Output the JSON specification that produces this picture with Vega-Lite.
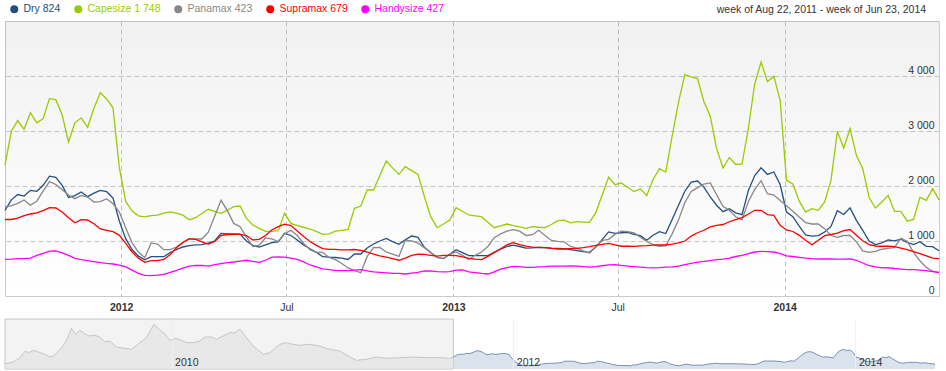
{
  "$schema": "https://vega.github.io/schema/vega-lite/v6.json",
  "padding": {"left": 1, "top": 0, "right": 0, "bottom": 0},
  "background": "#ffffff",
  "spacing": 5,
  "title": {"text": "week of Aug 22, 2011 - week of Jun 23, 2014", "anchor": "end", "orient": "top", "fontSize": 10.5, "fontWeight": "normal", "font": "Liberation Sans", "color": "#333333", "offset": -15.5, "dx": -16},
  "config": {
    "font": "Liberation Sans",
    "view": {"stroke": "#cccccc"},
    "axis": {"labelFont": "Liberation Sans", "labelFontSize": 10.5, "labelColor": "#333333", "gridColor": "#c8c8c8", "gridDash": [5, 3], "domain": false, "ticks": false}
  },
  "datasets": {
    "weekly": [
      {"d":"2011-08-26","Dry":1558,"Capesize":2380,"Panamax":1618,"Supramax":1391,"Handysize":667},
      {"d":"2011-09-02","Dry":1748,"Capesize":2995,"Panamax":1642,"Supramax":1391,"Handysize":670},
      {"d":"2011-09-09","Dry":1845,"Capesize":3190,"Panamax":1685,"Supramax":1418,"Handysize":679},
      {"d":"2011-09-16","Dry":1818,"Capesize":3030,"Panamax":1745,"Supramax":1460,"Handysize":679},
      {"d":"2011-09-23","Dry":1921,"Capesize":3333,"Panamax":1650,"Supramax":1491,"Handysize":688},
      {"d":"2011-09-30","Dry":1903,"Capesize":3148,"Panamax":1724,"Supramax":1512,"Handysize":740},
      {"d":"2011-10-07","Dry":2012,"Capesize":3224,"Panamax":1906,"Supramax":1552,"Handysize":775},
      {"d":"2011-10-14","Dry":2179,"Capesize":3588,"Panamax":2079,"Supramax":1606,"Handysize":815},
      {"d":"2011-10-21","Dry":2158,"Capesize":3570,"Panamax":2027,"Supramax":1600,"Handysize":820},
      {"d":"2011-10-28","Dry":2012,"Capesize":3291,"Panamax":1933,"Supramax":1527,"Handysize":785},
      {"d":"2011-11-04","Dry":1791,"Capesize":2800,"Panamax":1836,"Supramax":1421,"Handysize":738},
      {"d":"2011-11-11","Dry":1824,"Capesize":3148,"Panamax":1770,"Supramax":1330,"Handysize":685},
      {"d":"2011-11-18","Dry":1891,"Capesize":3239,"Panamax":1830,"Supramax":1388,"Handysize":660},
      {"d":"2011-11-25","Dry":1806,"Capesize":3067,"Panamax":1800,"Supramax":1382,"Handysize":642},
      {"d":"2011-12-02","Dry":1870,"Capesize":3415,"Panamax":1709,"Supramax":1315,"Handysize":625},
      {"d":"2011-12-09","Dry":1921,"Capesize":3697,"Panamax":1715,"Supramax":1218,"Handysize":606},
      {"d":"2011-12-16","Dry":1897,"Capesize":3582,"Panamax":1770,"Supramax":1194,"Handysize":592},
      {"d":"2011-12-23","Dry":1782,"Capesize":3421,"Panamax":1679,"Supramax":1170,"Handysize":582},
      {"d":"2011-12-30","Dry":1360,"Capesize":2330,"Panamax":1527,"Supramax":1103,"Handysize":560},
      {"d":"2012-01-06","Dry":1042,"Capesize":1720,"Panamax":1240,"Supramax":958,"Handysize":530},
      {"d":"2012-01-13","Dry":845,"Capesize":1545,"Panamax":966,"Supramax":800,"Handysize":470},
      {"d":"2012-01-20","Dry":724,"Capesize":1458,"Panamax":800,"Supramax":688,"Handysize":410},
      {"d":"2012-01-27","Dry":658,"Capesize":1440,"Panamax":697,"Supramax":612,"Handysize":375},
      {"d":"2012-02-03","Dry":715,"Capesize":1460,"Panamax":964,"Supramax":642,"Handysize":370},
      {"d":"2012-02-10","Dry":715,"Capesize":1470,"Panamax":945,"Supramax":642,"Handysize":380},
      {"d":"2012-02-17","Dry":715,"Capesize":1505,"Panamax":842,"Supramax":664,"Handysize":395},
      {"d":"2012-02-24","Dry":791,"Capesize":1530,"Panamax":842,"Supramax":755,"Handysize":430},
      {"d":"2012-03-02","Dry":845,"Capesize":1505,"Panamax":891,"Supramax":876,"Handysize":465},
      {"d":"2012-03-09","Dry":891,"Capesize":1470,"Panamax":976,"Supramax":973,"Handysize":505},
      {"d":"2012-03-16","Dry":915,"Capesize":1385,"Panamax":1036,"Supramax":1042,"Handysize":545},
      {"d":"2012-03-23","Dry":930,"Capesize":1424,"Panamax":1040,"Supramax":1030,"Handysize":555},
      {"d":"2012-03-30","Dry":935,"Capesize":1500,"Panamax":1036,"Supramax":985,"Handysize":555},
      {"d":"2012-04-06","Dry":960,"Capesize":1576,"Panamax":1160,"Supramax":945,"Handysize":545},
      {"d":"2012-04-13","Dry":1000,"Capesize":1540,"Panamax":1450,"Supramax":990,"Handysize":570},
      {"d":"2012-04-20","Dry":1139,"Capesize":1503,"Panamax":1740,"Supramax":1100,"Handysize":590},
      {"d":"2012-04-27","Dry":1130,"Capesize":1560,"Panamax":1552,"Supramax":1118,"Handysize":605},
      {"d":"2012-05-04","Dry":1130,"Capesize":1624,"Panamax":1320,"Supramax":1121,"Handysize":618},
      {"d":"2012-05-11","Dry":1125,"Capesize":1636,"Panamax":1260,"Supramax":1121,"Handysize":635},
      {"d":"2012-05-18","Dry":1000,"Capesize":1412,"Panamax":1070,"Supramax":1100,"Handysize":650},
      {"d":"2012-05-25","Dry":920,"Capesize":1291,"Panamax":900,"Supramax":1018,"Handysize":630},
      {"d":"2012-06-01","Dry":890,"Capesize":1230,"Panamax":925,"Supramax":1030,"Handysize":612},
      {"d":"2012-06-08","Dry":930,"Capesize":1175,"Panamax":1055,"Supramax":1100,"Handysize":650},
      {"d":"2012-06-15","Dry":970,"Capesize":1175,"Panamax":1040,"Supramax":1200,"Handysize":705},
      {"d":"2012-06-22","Dry":985,"Capesize":1188,"Panamax":990,"Supramax":1260,"Handysize":712},
      {"d":"2012-06-29","Dry":1139,"Capesize":1503,"Panamax":1133,"Supramax":1305,"Handysize":705},
      {"d":"2012-07-06","Dry":1100,"Capesize":1321,"Panamax":1194,"Supramax":1280,"Handysize":690},
      {"d":"2012-07-13","Dry":1020,"Capesize":1280,"Panamax":1100,"Supramax":1180,"Handysize":665},
      {"d":"2012-07-20","Dry":930,"Capesize":1250,"Panamax":955,"Supramax":1080,"Handysize":620},
      {"d":"2012-07-27","Dry":860,"Capesize":1218,"Panamax":840,"Supramax":990,"Handysize":564},
      {"d":"2012-08-03","Dry":794,"Capesize":1175,"Panamax":794,"Supramax":920,"Handysize":530},
      {"d":"2012-08-10","Dry":715,"Capesize":1120,"Panamax":794,"Supramax":860,"Handysize":495},
      {"d":"2012-08-17","Dry":705,"Capesize":1130,"Panamax":700,"Supramax":848,"Handysize":480},
      {"d":"2012-08-24","Dry":700,"Capesize":1180,"Panamax":660,"Supramax":848,"Handysize":465},
      {"d":"2012-08-31","Dry":690,"Capesize":1195,"Panamax":590,"Supramax":838,"Handysize":461},
      {"d":"2012-09-07","Dry":665,"Capesize":1212,"Panamax":510,"Supramax":840,"Handysize":462},
      {"d":"2012-09-14","Dry":764,"Capesize":1594,"Panamax":460,"Supramax":845,"Handysize":470},
      {"d":"2012-09-21","Dry":764,"Capesize":1636,"Panamax":425,"Supramax":830,"Handysize":480},
      {"d":"2012-09-28","Dry":873,"Capesize":1927,"Panamax":720,"Supramax":800,"Handysize":455},
      {"d":"2012-10-05","Dry":945,"Capesize":1927,"Panamax":880,"Supramax":760,"Handysize":440},
      {"d":"2012-10-12","Dry":1000,"Capesize":2190,"Panamax":882,"Supramax":730,"Handysize":430},
      {"d":"2012-10-19","Dry":1048,"Capesize":2454,"Panamax":800,"Supramax":705,"Handysize":420},
      {"d":"2012-10-26","Dry":990,"Capesize":2330,"Panamax":760,"Supramax":680,"Handysize":412},
      {"d":"2012-11-02","Dry":940,"Capesize":2212,"Panamax":720,"Supramax":650,"Handysize":410},
      {"d":"2012-11-09","Dry":1020,"Capesize":2351,"Panamax":1010,"Supramax":690,"Handysize":400},
      {"d":"2012-11-16","Dry":1091,"Capesize":2280,"Panamax":1000,"Supramax":740,"Handysize":415},
      {"d":"2012-11-23","Dry":1067,"Capesize":2212,"Panamax":960,"Supramax":760,"Handysize":430},
      {"d":"2012-11-30","Dry":885,"Capesize":1810,"Panamax":880,"Supramax":755,"Handysize":455},
      {"d":"2012-12-07","Dry":790,"Capesize":1442,"Panamax":790,"Supramax":740,"Handysize":455},
      {"d":"2012-12-14","Dry":703,"Capesize":1242,"Panamax":700,"Supramax":725,"Handysize":445},
      {"d":"2012-12-21","Dry":680,"Capesize":1310,"Panamax":680,"Supramax":740,"Handysize":440},
      {"d":"2012-12-28","Dry":760,"Capesize":1382,"Panamax":760,"Supramax":740,"Handysize":445},
      {"d":"2013-01-04","Dry":842,"Capesize":1606,"Panamax":800,"Supramax":735,"Handysize":470},
      {"d":"2013-01-11","Dry":790,"Capesize":1540,"Panamax":740,"Supramax":710,"Handysize":475},
      {"d":"2013-01-18","Dry":733,"Capesize":1473,"Panamax":665,"Supramax":685,"Handysize":440},
      {"d":"2013-01-25","Dry":733,"Capesize":1458,"Panamax":740,"Supramax":670,"Handysize":425},
      {"d":"2013-02-01","Dry":733,"Capesize":1442,"Panamax":800,"Supramax":661,"Handysize":410},
      {"d":"2013-02-08","Dry":733,"Capesize":1340,"Panamax":900,"Supramax":720,"Handysize":400},
      {"d":"2013-02-15","Dry":794,"Capesize":1242,"Panamax":1060,"Supramax":794,"Handysize":440},
      {"d":"2013-02-22","Dry":850,"Capesize":1275,"Panamax":1130,"Supramax":860,"Handysize":490},
      {"d":"2013-03-01","Dry":900,"Capesize":1309,"Panamax":1180,"Supramax":930,"Handysize":515},
      {"d":"2013-03-08","Dry":925,"Capesize":1280,"Panamax":1208,"Supramax":970,"Handysize":540},
      {"d":"2013-03-15","Dry":900,"Capesize":1255,"Panamax":1180,"Supramax":935,"Handysize":535},
      {"d":"2013-03-22","Dry":870,"Capesize":1230,"Panamax":1100,"Supramax":905,"Handysize":520},
      {"d":"2013-03-29","Dry":875,"Capesize":1261,"Panamax":1115,"Supramax":890,"Handysize":521},
      {"d":"2013-04-05","Dry":885,"Capesize":1250,"Panamax":1195,"Supramax":885,"Handysize":530},
      {"d":"2013-04-12","Dry":880,"Capesize":1242,"Panamax":1100,"Supramax":880,"Handysize":535},
      {"d":"2013-04-19","Dry":870,"Capesize":1300,"Panamax":1010,"Supramax":865,"Handysize":545},
      {"d":"2013-04-26","Dry":867,"Capesize":1370,"Panamax":995,"Supramax":855,"Handysize":545},
      {"d":"2013-05-03","Dry":860,"Capesize":1380,"Panamax":985,"Supramax":855,"Handysize":545},
      {"d":"2013-05-10","Dry":845,"Capesize":1330,"Panamax":900,"Supramax":860,"Handysize":548},
      {"d":"2013-05-17","Dry":825,"Capesize":1352,"Panamax":870,"Supramax":867,"Handysize":545},
      {"d":"2013-05-24","Dry":805,"Capesize":1345,"Panamax":820,"Supramax":880,"Handysize":535},
      {"d":"2013-05-31","Dry":794,"Capesize":1339,"Panamax":780,"Supramax":897,"Handysize":525},
      {"d":"2013-06-07","Dry":890,"Capesize":1521,"Panamax":900,"Supramax":920,"Handysize":535},
      {"d":"2013-06-14","Dry":1030,"Capesize":1840,"Panamax":1010,"Supramax":940,"Handysize":550},
      {"d":"2013-06-21","Dry":1165,"Capesize":2158,"Panamax":1030,"Supramax":958,"Handysize":565},
      {"d":"2013-06-28","Dry":1139,"Capesize":2024,"Panamax":1120,"Supramax":930,"Handysize":570},
      {"d":"2013-07-05","Dry":1150,"Capesize":2055,"Panamax":1180,"Supramax":905,"Handysize":555},
      {"d":"2013-07-12","Dry":1155,"Capesize":1976,"Panamax":1170,"Supramax":905,"Handysize":545},
      {"d":"2013-07-19","Dry":1120,"Capesize":1900,"Panamax":1150,"Supramax":903,"Handysize":535},
      {"d":"2013-07-26","Dry":1097,"Capesize":1950,"Panamax":1070,"Supramax":910,"Handysize":525},
      {"d":"2013-08-02","Dry":1015,"Capesize":1825,"Panamax":990,"Supramax":915,"Handysize":515},
      {"d":"2013-08-09","Dry":1105,"Capesize":2118,"Panamax":935,"Supramax":925,"Handysize":510},
      {"d":"2013-08-16","Dry":1170,"Capesize":2315,"Panamax":905,"Supramax":927,"Handysize":515},
      {"d":"2013-08-23","Dry":1135,"Capesize":2255,"Panamax":912,"Supramax":927,"Handysize":525},
      {"d":"2013-08-30","Dry":1390,"Capesize":2905,"Panamax":1130,"Supramax":945,"Handysize":530},
      {"d":"2013-09-06","Dry":1650,"Capesize":3520,"Panamax":1380,"Supramax":967,"Handysize":545},
      {"d":"2013-09-13","Dry":1905,"Capesize":4024,"Panamax":1700,"Supramax":1000,"Handysize":570},
      {"d":"2013-09-20","Dry":2070,"Capesize":3982,"Panamax":1900,"Supramax":1090,"Handysize":595},
      {"d":"2013-09-27","Dry":2090,"Capesize":3952,"Panamax":1970,"Supramax":1150,"Handysize":615},
      {"d":"2013-10-04","Dry":1980,"Capesize":3533,"Panamax":2035,"Supramax":1195,"Handysize":628},
      {"d":"2013-10-11","Dry":1800,"Capesize":3270,"Panamax":2055,"Supramax":1258,"Handysize":645},
      {"d":"2013-10-18","Dry":1650,"Capesize":2680,"Panamax":1840,"Supramax":1285,"Handysize":660},
      {"d":"2013-10-25","Dry":1533,"Capesize":2327,"Panamax":1630,"Supramax":1300,"Handysize":672},
      {"d":"2013-11-01","Dry":1585,"Capesize":2518,"Panamax":1560,"Supramax":1350,"Handysize":690},
      {"d":"2013-11-08","Dry":1512,"Capesize":2391,"Panamax":1440,"Supramax":1390,"Handysize":718},
      {"d":"2013-11-15","Dry":1480,"Capesize":2403,"Panamax":1385,"Supramax":1425,"Handysize":740},
      {"d":"2013-11-22","Dry":1920,"Capesize":3050,"Panamax":1720,"Supramax":1490,"Handysize":770},
      {"d":"2013-11-29","Dry":2190,"Capesize":3860,"Panamax":1937,"Supramax":1558,"Handysize":800},
      {"d":"2013-12-06","Dry":2330,"Capesize":4254,"Panamax":2097,"Supramax":1558,"Handysize":812},
      {"d":"2013-12-13","Dry":2210,"Capesize":3897,"Panamax":1860,"Supramax":1479,"Handysize":808},
      {"d":"2013-12-20","Dry":2255,"Capesize":3997,"Panamax":1836,"Supramax":1467,"Handysize":800},
      {"d":"2013-12-27","Dry":2027,"Capesize":3558,"Panamax":1735,"Supramax":1285,"Handysize":770},
      {"d":"2014-01-03","Dry":1527,"Capesize":2103,"Panamax":1640,"Supramax":1200,"Handysize":730},
      {"d":"2014-01-10","Dry":1442,"Capesize":2036,"Panamax":1540,"Supramax":1173,"Handysize":718},
      {"d":"2014-01-17","Dry":1270,"Capesize":1724,"Panamax":1435,"Supramax":1103,"Handysize":703},
      {"d":"2014-01-24","Dry":1109,"Capesize":1527,"Panamax":1335,"Supramax":1012,"Handysize":688},
      {"d":"2014-01-31","Dry":1088,"Capesize":1588,"Panamax":1309,"Supramax":933,"Handysize":678},
      {"d":"2014-02-07","Dry":1097,"Capesize":1558,"Panamax":1309,"Supramax":1012,"Handysize":673},
      {"d":"2014-02-14","Dry":1164,"Capesize":1709,"Panamax":1224,"Supramax":1097,"Handysize":673},
      {"d":"2014-02-21","Dry":1264,"Capesize":2103,"Panamax":1100,"Supramax":1118,"Handysize":673},
      {"d":"2014-02-28","Dry":1552,"Capesize":2994,"Panamax":1067,"Supramax":1142,"Handysize":670},
      {"d":"2014-03-07","Dry":1482,"Capesize":2691,"Panamax":1100,"Supramax":1188,"Handysize":672},
      {"d":"2014-03-14","Dry":1603,"Capesize":3042,"Panamax":1100,"Supramax":1209,"Handysize":673},
      {"d":"2014-03-21","Dry":1376,"Capesize":2558,"Panamax":985,"Supramax":1103,"Handysize":650},
      {"d":"2014-03-28","Dry":1194,"Capesize":2315,"Panamax":820,"Supramax":1003,"Handysize":600},
      {"d":"2014-04-04","Dry":1000,"Capesize":1791,"Panamax":795,"Supramax":936,"Handysize":552},
      {"d":"2014-04-11","Dry":936,"Capesize":1600,"Panamax":810,"Supramax":909,"Handysize":530},
      {"d":"2014-04-18","Dry":967,"Capesize":1709,"Panamax":850,"Supramax":905,"Handysize":512},
      {"d":"2014-04-25","Dry":1018,"Capesize":1830,"Panamax":867,"Supramax":905,"Handysize":515},
      {"d":"2014-05-02","Dry":1003,"Capesize":1539,"Panamax":885,"Supramax":897,"Handysize":500},
      {"d":"2014-05-09","Dry":1033,"Capesize":1539,"Panamax":1048,"Supramax":870,"Handysize":490},
      {"d":"2014-05-16","Dry":973,"Capesize":1361,"Panamax":997,"Supramax":845,"Handysize":480},
      {"d":"2014-05-23","Dry":936,"Capesize":1391,"Panamax":790,"Supramax":806,"Handysize":478},
      {"d":"2014-05-30","Dry":988,"Capesize":1794,"Panamax":640,"Supramax":770,"Handysize":470},
      {"d":"2014-06-06","Dry":903,"Capesize":1739,"Panamax":520,"Supramax":730,"Handysize":460},
      {"d":"2014-06-13","Dry":897,"Capesize":1951,"Panamax":450,"Supramax":688,"Handysize":445},
      {"d":"2014-06-20","Dry":824,"Capesize":1748,"Panamax":423,"Supramax":679,"Handysize":427}
    ],
    "navpre": [
      {"d":"2009-01-10","v":883},{"d":"2009-01-28","v":1054},{"d":"2009-02-11","v":1487},{"d":"2009-02-22","v":2161},
      {"d":"2009-03-01","v":1990},{"d":"2009-03-12","v":2231},{"d":"2009-03-22","v":2060},{"d":"2009-04-05","v":1829},
      {"d":"2009-04-16","v":1557},{"d":"2009-04-26","v":1728},{"d":"2009-05-11","v":2493},{"d":"2009-05-21","v":3167},
      {"d":"2009-06-01","v":4444},{"d":"2009-06-10","v":3841},{"d":"2009-06-19","v":4243},{"d":"2009-06-29","v":3901},
      {"d":"2009-07-09","v":3670},{"d":"2009-07-21","v":3740},{"d":"2009-07-31","v":3569},{"d":"2009-08-11","v":3096},
      {"d":"2009-08-22","v":3167},{"d":"2009-09-05","v":2563},{"d":"2009-09-23","v":2432},{"d":"2009-10-07","v":2332},
      {"d":"2009-10-21","v":2835},{"d":"2009-11-08","v":3499},{"d":"2009-11-24","v":4847},{"d":"2009-12-05","v":4344},
      {"d":"2009-12-17","v":3901},{"d":"2009-12-28","v":3237},{"d":"2010-01-11","v":3438},{"d":"2010-01-22","v":3237},
      {"d":"2010-02-02","v":2996},{"d":"2010-02-16","v":2996},{"d":"2010-03-02","v":3167},{"d":"2010-03-13","v":3569},
      {"d":"2010-03-27","v":3569},{"d":"2010-04-07","v":3338},{"d":"2010-04-21","v":3670},{"d":"2010-05-05","v":4002},
      {"d":"2010-05-16","v":4002},{"d":"2010-05-27","v":4344},{"d":"2010-06-10","v":3499},{"d":"2010-06-24","v":2664},
      {"d":"2010-07-16","v":1829},{"d":"2010-07-30","v":1990},{"d":"2010-08-20","v":2835},{"d":"2010-09-03","v":2996},
      {"d":"2010-09-17","v":2835},{"d":"2010-10-01","v":2734},{"d":"2010-10-23","v":2835},{"d":"2010-11-13","v":2664},
      {"d":"2010-12-05","v":2332},{"d":"2010-12-26","v":2161},{"d":"2011-01-13","v":1658},{"d":"2011-01-31","v":1225},
      {"d":"2011-02-21","v":1326},{"d":"2011-03-14","v":1557},{"d":"2011-04-04","v":1426},{"d":"2011-05-02","v":1487},
      {"d":"2011-05-31","v":1557},{"d":"2011-06-29","v":1487},{"d":"2011-07-27","v":1487},{"d":"2011-08-18","v":1426},
      {"d":"2011-08-26","v":1558}
    ]
  },
  "vconcat": [
    {
      "width": 934,
      "height": 275,
      "layer": [
        {
          "data": {"values": [{}]},
          "mark": {"type": "rect", "color": {"gradient": "linear", "x1": 0, "y1": 0, "x2": 0, "y2": 1, "stops": [{"offset": 0, "color": "rgba(0,0,0,0.055)"}, {"offset": 1, "color": "rgba(0,0,0,0)"}]}}
        },
        {
          "data": {"name": "weekly"},
          "transform": [{"fold": ["Dry", "Capesize", "Panamax", "Supramax", "Handysize"], "as": ["series", "value"]}],
          "mark": {"type": "line", "strokeWidth": 1.3},
          "encoding": {
            "x": {
              "field": "d", "type": "temporal",
              "scale": {"type": "utc", "nice": false},
              "axis": {
                "title": null,
                "values": [
                  {"year": 2012, "month": 1, "date": 1, "utc": true},
                  {"year": 2012, "month": 7, "date": 1, "utc": true},
                  {"year": 2013, "month": 1, "date": 1, "utc": true},
                  {"year": 2013, "month": 7, "date": 1, "utc": true},
                  {"year": 2014, "month": 1, "date": 1, "utc": true}
                ],
                "labelExpr": "utcmonth(datum.value) == 0 ? utcFormat(datum.value, '%Y') : 'Jul'",
                "labelFontWeight": {"condition": {"test": "utcmonth(datum.value) == 0", "value": "bold"}, "value": "normal"},
                "labelPadding": 6,
                "labelFlush": false,
                "grid": true
              }
            },
            "y": {
              "field": "value", "type": "quantitative",
              "scale": {"domain": [0, 5000], "nice": false},
              "axis": {
                "title": null,
                "orient": "right",
                "values": [0, 1000, 2000, 3000, 4000],
                "labelExpr": "replace(format(datum.value, ','), ',', ' ')",
                "labelAlign": "right",
                "labelBaseline": "bottom",
                "labelPadding": -5,
                "labelOffset": -1,
                "labelFlush": false,
                "labelOverlap": false,
                "grid": true
              }
            },
            "color": {
              "field": "series", "type": "nominal",
              "scale": {"domain": ["Dry", "Capesize", "Panamax", "Supramax", "Handysize"], "range": ["#244f80", "#99cc00", "#888888", "#ff0000", "#ff00ff"]},
              "legend": {
                "orient": "top",
                "direction": "horizontal",
                "title": null,
                "gridAlign": "none",
                "symbolType": "circle",
                "symbolSize": 64,
                "symbolStrokeWidth": 0,
                "symbolOpacity": 1,
                "symbolFillColor": {"expr": "datum.value == 'Dry' ? '#244f80' : datum.value == 'Capesize' ? '#99cc00' : datum.value == 'Panamax' ? '#888888' : datum.value == 'Supramax' ? '#ff0000' : '#ff00ff'"},
                "labelFont": "Liberation Sans",
                "labelFontSize": 10.5,
                "labelOffset": 4,
                "columnPadding": 12,
                "offset": 1,
                "padding": 4,
                "labelExpr": "datum.label + ' ' + (datum.label == 'Dry' ? '824' : datum.label == 'Capesize' ? '1 748' : datum.label == 'Panamax' ? '423' : datum.label == 'Supramax' ? '679' : '427')",
                "labelColor": {"expr": "datum.value == 'Dry' ? '#244f80' : datum.value == 'Capesize' ? '#99cc00' : datum.value == 'Panamax' ? '#888888' : datum.value == 'Supramax' ? '#ff0000' : '#ff00ff'"}
              }
            }
          }
        }
      ]
    },
    {
      "width": 930,
      "height": 50,
      "view": {"stroke": null},
      "encoding": {
        "x": {
          "field": "d", "type": "temporal",
          "scale": {"type": "utc", "nice": false},
          "axis": {
            "title": null,
            "values": [
              {"year": 2010, "month": 1, "date": 1, "utc": true},
              {"year": 2012, "month": 1, "date": 1, "utc": true},
              {"year": 2014, "month": 1, "date": 1, "utc": true}
            ],
            "labelExpr": "utcFormat(datum.value, '%Y')",
            "labelAlign": "left",
            "labelBaseline": "alphabetic",
            "labelPadding": -4,
            "labelOffset": 3,
            "labelFlush": false,
            "grid": true,
            "gridColor": "#f0f0f0",
            "gridDash": [],
            "zindex": 1
          }
        }
      },
      "layer": [
        {
          "data": {"values": [{"d": "2009-01-10", "d2": "2011-08-26"}]},
          "mark": {"type": "rect", "fill": "#f3f3f3", "stroke": "#c4c4c4", "strokeWidth": 1},
          "encoding": {"x2": {"field": "d2"}}
        },
        {
          "data": {"name": "navpre"},
          "mark": {"type": "area", "color": "#e2e2e2", "line": {"color": "#c6c6c6", "strokeWidth": 1}},
          "encoding": {
            "y": {"field": "v", "type": "quantitative", "scale": {"domain": [350, 5380], "nice": false, "zero": false}, "axis": null},
            "y2": {"datum": 350}
          }
        },
        {
          "data": {"name": "weekly"},
          "mark": {"type": "area", "color": "#cbd5e3", "line": {"color": "#7891b3", "strokeWidth": 1}},
          "encoding": {
            "y": {"field": "Dry", "type": "quantitative", "scale": {"domain": [350, 5380], "nice": false, "zero": false}, "axis": null},
            "y2": {"datum": 350}
          }
        }
      ]
    }
  ]
}
